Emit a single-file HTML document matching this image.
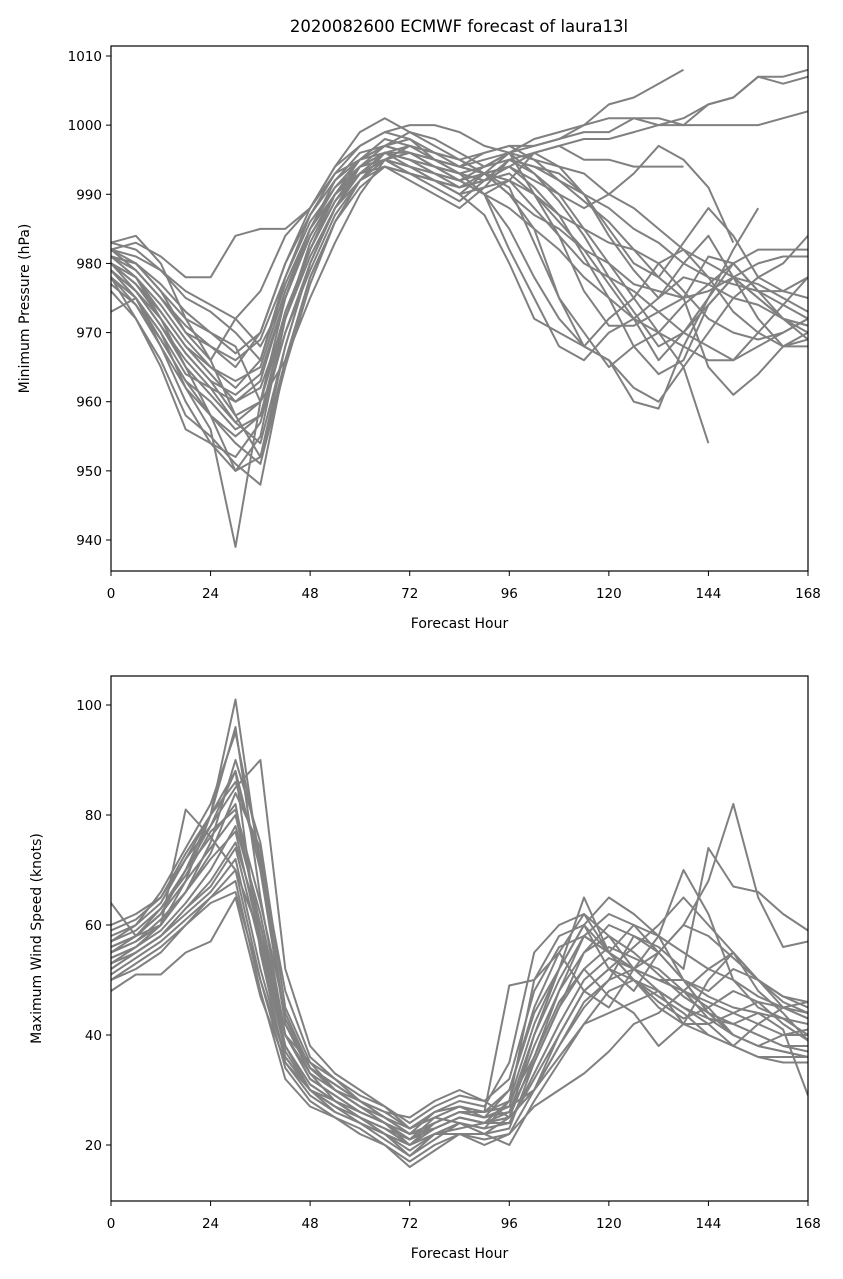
<!DOCTYPE html>
<html><head><meta charset="utf-8">
<style>
html,body{margin:0;padding:0;background:#fff;}
svg{display:block;font-family:"DejaVu Sans","Liberation Sans",sans-serif;}
</style></head>
<body>
<svg id="chart" width="843" height="1279" viewBox="0 0 843 1279"></svg>
<script>
const hourTicks = [0,24,48,72,96,120,144,168];
const pressureTicks = [940,950,960,970,980,990,1000,1010];
const windTicks = [20,40,60,80,100];
const stepHours = 6;
const pressureMembers = [
[983,984,980,972,966,958,952,968,980,988,994,997,999,998,996,994,996,998,999,1000,1003,1004,1006,1008],
[980,978,972,965,958,950,955,972,983,990,995,998,997,996,995,993,990,985,975,968,966,962,960,965,970,975,978,980,984],
[979,975,970,962,956,939,960,975,984,990,993,996,995,994,993,992,995,993,990,985,980,975,970,965,954],
[982,980,976,970,966,972,976,984,988,993,995,996,994,992,990,991,992,988,984,980,978,976,973,970,968,966,970,974,978],
[978,972,966,958,955,951,948,966,978,986,992,996,997,996,995,996,997,997,998,999,999,1001,1001,1000,1003,1004,1007,1007,1008],
[981,979,975,970,968,965,970,980,987,992,995,997,998,995,993,990,988,985,982,978,975,972,970,968,966,966,968,970,972],
[973,975,970,964,962,960,962,972,982,990,994,995,993,992,990,993,991,983,975,970,965,968,970,974,977,980,976,974,972],
[983,982,979,976,974,972,968,975,985,992,996,997,996,995,994,993,996,995,994,993,990,988,985,982,980,978,975,972,970],
[977,974,968,962,958,955,958,970,980,988,993,995,996,994,992,990,985,978,972,968,966,960,959,968,975,980,982,982,982],
[980,977,973,968,964,960,963,975,984,990,994,996,995,993,992,994,996,990,987,985,983,982,978,975,965,961,964,968,969],
[982,981,979,975,973,970,966,978,987,993,997,999,998,996,994,993,990,987,985,982,980,977,976,975,976,978,980,981,981],
[979,976,971,966,962,957,954,968,980,988,993,996,996,995,994,996,997,995,992,990,988,985,983,980,978,977,976,976,975],
[981,980,976,972,970,968,960,966,975,983,990,995,997,995,993,990,982,975,968,966,970,972,975,978,977,975,974,972,971],
[978,975,969,963,960,956,958,972,982,989,994,996,995,993,991,992,994,992,990,988,990,993,997,995,991,983],
[980,978,974,969,965,962,966,977,985,991,995,997,996,995,994,995,996,993,989,984,978,973,968,970,975,982,988],
[982,979,975,971,968,966,969,978,986,991,994,995,993,991,989,992,995,994,993,990,985,980,978,983,988,984,978,976,978],
[979,976,972,967,963,958,960,973,982,989,993,995,994,993,992,993,994,996,997,995,995,994,994,994],
[981,980,977,973,970,967,970,980,988,994,997,999,1000,1000,999,997,996,997,998,1000,1001,1001,1000,1001,1003,1004,1007,1006,1007],
[980,977,972,967,963,961,964,975,984,990,994,996,995,994,993,994,995,996,997,998,998,999,1000,1000,1000,1000,1000,1001,1002],
[979,975,968,960,954,952,957,970,979,987,992,995,994,992,990,987,980,972,970,968,972,975,980,982,978,973,970,968,970],
[982,983,981,978,978,984,985,985,988,994,999,1001,999,997,995,993,992,990,986,982,977,972,966,970,974,978,975,972,971],
[976,972,965,956,954,950,952,966,978,986,991,994,993,992,991,993,994,991,987,981,975,968,964,966,974,978,977,975,973],
[981,978,973,968,965,963,965,976,985,990,993,994,992,990,988,991,995,994,992,989,986,982,980,976,972,970,969,970,972],
[978,974,969,963,958,954,951,965,977,986,992,995,996,994,992,990,992,996,994,990,984,979,975,980,984,978,972,968,968],
[980,976,971,965,961,957,960,972,981,988,992,994,993,992,991,992,993,990,984,976,971,971,973,975,981,980,976,972,969]
];
const windMembers = [
[55,57,60,68,80,101,70,42,33,28,25,22,18,22,24,22,25,40,52,60,55,50,48,45,42,44,46,45,44],
[52,55,58,63,68,75,60,38,30,26,24,22,20,24,26,25,30,45,55,62,58,52,50,48,45,40,38,37,36],
[58,60,64,72,78,88,55,35,30,27,25,23,21,25,24,23,28,50,58,60,52,48,55,60,68,82,65,56,57],
[50,53,56,60,65,70,50,34,28,25,22,20,17,20,22,21,22,30,38,45,50,52,48,45,43,42,40,38,37],
[54,56,60,66,75,90,75,45,35,30,27,25,22,26,28,27,35,55,60,62,55,50,45,42,40,38,36,36,36],
[60,62,65,72,80,96,65,40,32,29,26,24,21,23,25,24,26,35,45,55,60,58,55,50,48,52,50,45,43],
[56,58,62,70,78,85,90,52,38,33,30,27,24,27,29,28,32,48,56,58,55,52,50,50,47,45,44,43,42],
[53,55,58,62,66,72,52,36,30,27,25,22,19,22,24,23,24,32,40,48,52,50,47,44,40,38,36,35,35],
[55,58,63,70,76,82,58,38,31,28,26,24,22,24,26,26,49,50,55,48,45,52,55,60,58,54,50,46,44],
[51,54,57,61,65,68,48,32,27,25,23,20,16,19,22,22,20,28,35,42,48,50,46,43,45,48,46,42,39],
[57,60,66,74,82,95,72,42,34,30,28,25,23,25,27,25,27,40,50,58,62,60,55,50,44,40,38,37,36],
[54,56,59,64,70,78,62,40,32,29,26,24,21,23,25,24,25,36,46,52,56,54,52,48,46,44,42,40,40],
[59,61,65,73,80,88,70,43,34,31,28,26,23,26,27,26,28,42,52,60,65,62,58,55,52,50,47,45,43],
[52,55,58,63,67,74,56,37,30,27,24,21,18,21,24,22,23,35,45,52,47,44,38,42,50,55,48,44,39],
[56,58,62,68,74,80,60,40,33,30,27,25,22,24,26,25,26,38,48,55,58,55,51,47,44,42,40,38,38],
[55,57,61,66,72,77,57,38,31,28,25,23,20,23,25,24,24,33,42,50,54,52,50,48,43,40,38,40,41],
[64,58,60,81,76,70,58,40,35,32,28,26,25,28,30,28,25,30,40,48,52,56,60,65,60,55,50,47,46],
[48,51,51,55,57,65,47,35,29,26,24,22,20,22,22,20,22,27,30,33,37,42,44,48,52,55,50,47,45],
[56,58,62,70,80,86,72,48,36,32,29,27,23,25,27,26,30,44,52,65,55,52,58,70,62,50,45,43,40],
[53,56,60,66,73,84,74,42,34,30,27,24,20,22,23,24,25,30,38,46,50,58,56,52,74,67,66,62,59],
[50,52,55,60,64,66,50,36,30,28,26,24,21,24,26,26,27,30,36,42,44,46,48,42,42,38,42,45,46],
[57,59,63,69,77,81,64,44,34,31,28,25,22,23,25,24,28,36,48,58,55,60,58,50,44,42,44,41,29]
];

const NS="http://www.w3.org/2000/svg";
const svg=document.getElementById('chart');
function mk(tag,attrs,parent){const e=document.createElementNS(NS,tag);for(const k in attrs)e.setAttribute(k,attrs[k]);(parent||svg).appendChild(e);return e;}
function txt(s,attrs,parent){const e=mk('text',attrs,parent);e.textContent=s;return e;}

function panel(cfg){
  const g=mk('g',{});
  
  
  const L=111,R=808,T=cfg.top,B=cfg.bottom;
  const xs=h=>L+(h/168)*(R-L);
  const ys=v=>cfg.y0px+(v-cfg.v0)*(cfg.y1px-cfg.y0px)/(cfg.v1-cfg.v0);
  const cp=mk('clipPath',{id:cfg.clip},g);mk('rect',{x:L,y:T,width:R-L,height:B-T},cp);
  const lines=mk('g',{'clip-path':'url(#'+cfg.clip+')'},g);
  cfg.members.forEach((m,i)=>{
    const d=m.map((v,j)=>(j?'L':'M')+xs(j*stepHours).toFixed(1)+' '+ys(v).toFixed(1)).join(' ');
    const p=mk('path',{d:d,fill:'none',stroke:'#808080','stroke-width':2,'stroke-linejoin':'round'},lines);
    
    
  });
  const fr=mk('rect',{x:L,y:T,width:R-L,height:B-T,fill:'none',stroke:'#000','stroke-width':1.2},g);
  
  
  hourTicks.forEach(h=>{
    mk('line',{x1:xs(h),x2:xs(h),y1:B,y2:B+5,stroke:'#000','stroke-width':1},g);
    const t=txt(String(h),{x:xs(h),y:B+27,'text-anchor':'middle','font-size':13.5,fill:'#000'},g);
    
    
  });
  cfg.ticks.forEach(v=>{
    mk('line',{x1:L-5,x2:L,y1:ys(v),y2:ys(v),stroke:'#000','stroke-width':1},g);
    const t=txt(String(v),{x:L-9,y:ys(v)+5,'text-anchor':'end','font-size':13.5,fill:'#000'},g);
    
    
  });
  const xt=txt('Forecast Hour',{x:(L+R)/2,y:B+57,'text-anchor':'middle','font-size':14,fill:'#000'},g);
  
  
  const yt=txt(cfg.ylabel,{x:0,y:0,'text-anchor':'middle','font-size':14,fill:'#000',transform:'translate('+cfg.ylabelX+','+((T+B)/2)+') rotate(-90)'},g);
  
  
}
panel({name:'pressure-panel',clip:'cp1',top:46,bottom:571,v0:1010,y0px:56,v1:940,y1px:540,ticks:pressureTicks,members:pressureMembers,ylabel:'Minimum Pressure (hPa)',ylabelX:29});
panel({name:'wind-panel',clip:'cp2',top:676,bottom:1201,v0:100,y0px:705,v1:20,y1px:1145,ticks:windTicks,members:windMembers,ylabel:'Maximum Wind Speed (knots)',ylabelX:41});
const title=txt('2020082600 ECMWF forecast of laura13l',{x:459,y:32,'text-anchor':'middle','font-size':16.5,fill:'#000'});


</script>
</body></html>
